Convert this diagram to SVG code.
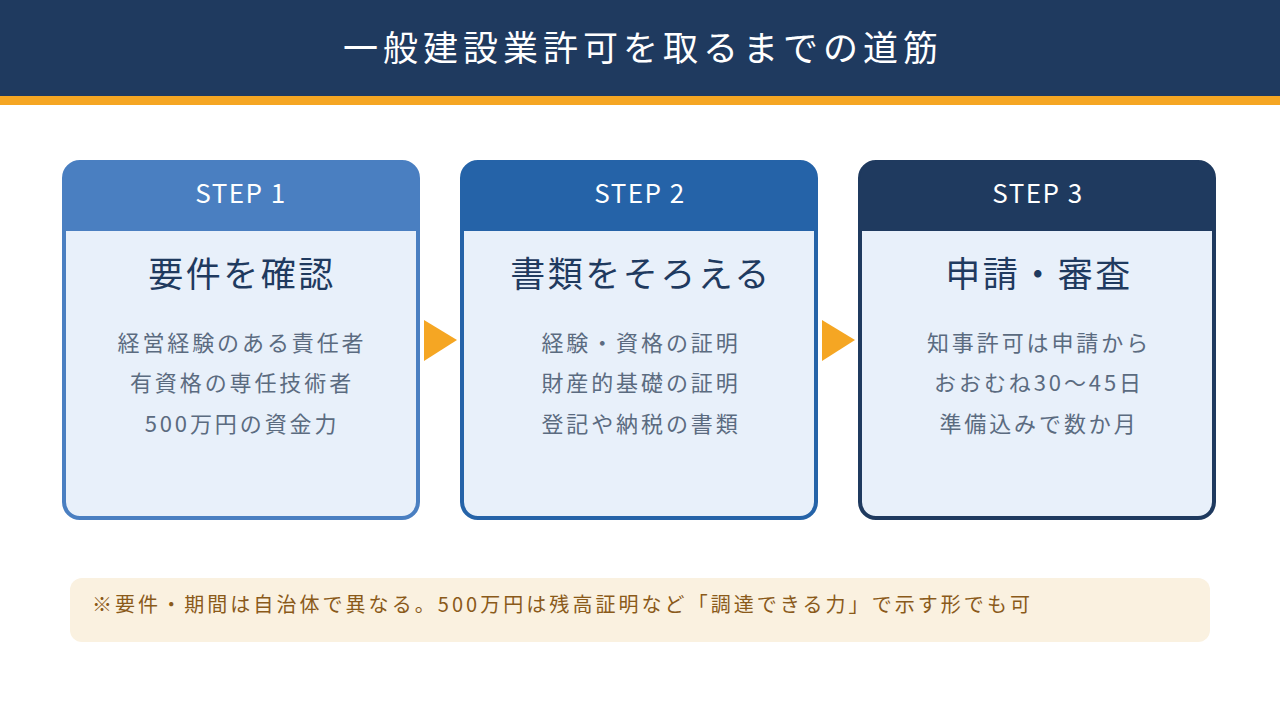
<svg xmlns="http://www.w3.org/2000/svg" width="1280" height="720" viewBox="0 0 1280 720">
  <style>
    text { font-family: "Noto Sans CJK JP", "Noto Sans", sans-serif; }
    .title { fill: #ffffff; font-size: 35px; letter-spacing: 5px; text-anchor: middle; }
    .step { fill: #ffffff; font-size: 26px; letter-spacing: 1.5px; text-anchor: middle; }
    .head { fill: #1f3a5f; font-size: 35px; letter-spacing: 2.5px; text-anchor: middle; }
    .body { fill: #5b6b80; font-size: 22px; letter-spacing: 2.9px; text-anchor: middle; }
    .card { fill: #e8f0fa; stroke-width: 4; }
    .arrow { fill: #f5a623; }
    .note { fill: #8a5a1a; font-size: 20px; letter-spacing: 3.05px; }
  </style>

  <!-- header bar -->
  <rect x="0" y="0" width="1280" height="96" fill="#1f3a5f"/>
  <rect x="0" y="96" width="1280" height="9" fill="#f5a623"/>
  <text class="title" x="643" y="61">一般建設業許可を取るまでの道筋</text>

  <!-- step 1 -->
  <g id="step1">
    <rect class="card" x="64" y="162" width="354" height="356" rx="16" stroke="#4a7fc1"/>
    <path d="M64 178 A16 16 0 0 1 80 162 H402 A16 16 0 0 1 418 178 V231 H64 Z" fill="#4a7fc1"/>
    <text class="step" x="241" y="203">STEP 1</text>
    <text class="head" x="242" y="287">要件を確認</text>
    <text class="body" x="242" y="351">経営経験のある責任者</text>
    <text class="body" x="242" y="391">有資格の専任技術者</text>
    <text class="body" x="242" y="432">500万円の資金力</text>
  </g>

  <!-- step 2 -->
  <g id="step2">
    <rect class="card" x="462" y="162" width="354" height="356" rx="16" stroke="#2563a8"/>
    <path d="M462 178 A16 16 0 0 1 478 162 H800 A16 16 0 0 1 816 178 V231 H462 Z" fill="#2563a8"/>
    <text class="step" x="640" y="203">STEP 2</text>
    <text class="head" x="641" y="287">書類をそろえる</text>
    <text class="body" x="641" y="351">経験・資格の証明</text>
    <text class="body" x="641" y="391">財産的基礎の証明</text>
    <text class="body" x="641" y="432">登記や納税の書類</text>
  </g>

  <!-- step 3 -->
  <g id="step3">
    <rect class="card" x="860" y="162" width="354" height="356" rx="16" stroke="#1f3a5f"/>
    <path d="M860 178 A16 16 0 0 1 876 162 H1198 A16 16 0 0 1 1214 178 V231 H860 Z" fill="#1f3a5f"/>
    <text class="step" x="1038" y="203">STEP 3</text>
    <text class="head" x="1039" y="287">申請・審査</text>
    <text class="body" x="1039" y="351">知事許可は申請から</text>
    <text class="body" x="1039" y="391">おおむね30〜45日</text>
    <text class="body" x="1039" y="432">準備込みで数か月</text>
  </g>

  <!-- connectors between steps -->
  <g id="connectors">
    <polygon class="arrow" points="424,320 457,340 424,361"/>
    <polygon class="arrow" points="822,320 855,340 822,361"/>
  </g>

  <!-- footnote -->
  <g id="note">
    <rect x="70" y="578" width="1140" height="64" rx="12" fill="#faf1e0"/>
    <text class="note" x="92" y="612">※要件・期間は自治体で異なる。500万円は残高証明など「調達できる力」で示す形でも可</text>
  </g>
</svg>
